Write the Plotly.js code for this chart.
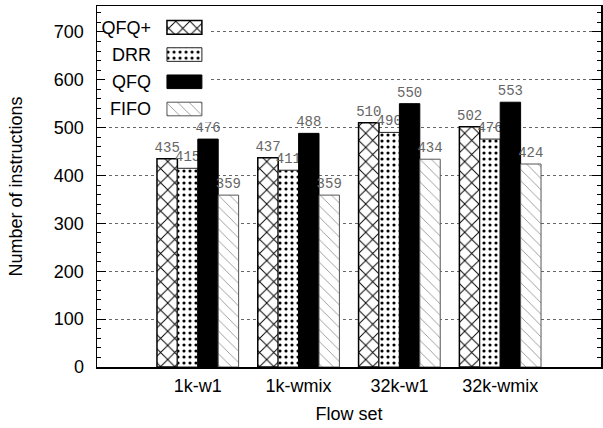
<!DOCTYPE html>
<html>
<head>
<meta charset="utf-8">
<script src="https://cdn.plot.ly/plotly-3.0.1.min.js"></script>
<style>html,body{margin:0;padding:0;background:#fff;}#chart{width:603px;height:428px;}</style>
</head>
<body>
<div id="chart"></div>
<script>
// ---- data ----
const categories = ['1k-w1', '1k-wmix', '32k-w1', '32k-wmix'];
const seriesNames = ['QFQ+', 'DRR', 'QFQ', 'FIFO'];
const qfqPlus = [435, 437, 510, 502];
const drr = [415, 411, 490, 476];
const qfq = [476, 488, 550, 553];
const fifo = [359, 359, 434, 424];
const yTickVals = [0, 100, 200, 300, 400, 500, 600, 700];
const yTitle = 'Number of instructions';
const xTitle = 'Flow set';

const seriesValues = [qfqPlus, drr, qfq, fifo];

// ---- styles ----
const styles = [
  {color: 'white', line: {color: 'black', width: 1.5},
   pattern: {shape: 'x', fgcolor: 'black', bgcolor: 'white', size: 10, solidity: 0.18}},
  {color: 'white', line: {color: '#222', width: 1},
   pattern: {shape: '.', fgcolor: 'black', bgcolor: 'white', size: 6, solidity: 0.22}},
  {color: 'black', line: {color: 'black', width: 1}},
  {color: 'white', line: {color: '#555', width: 1},
   pattern: {shape: '\\', fgcolor: '#888', bgcolor: 'white', size: 8, solidity: 0.1}}
];

const font = 'Liberation Sans, Arial, Helvetica, sans-serif';

const traces = [];
seriesNames.forEach((name, i) => {
  traces.push({
    type: 'bar', name: name, x: categories, y: seriesValues[i],
    marker: styles[i],
    text: seriesValues[i].map(String),
    textposition: 'outside',
    constraintext: 'none',
    cliponaxis: false,
    textfont: {family: 'Liberation Mono, Courier New, monospace', size: 14, color: '#666'},
    hoverinfo: 'skip', showlegend: false
  });
});
// legend key drawn as a small inset bar chart
seriesNames.forEach((name, i) => {
  traces.push({
    type: 'bar', orientation: 'h', x: [1], y: [name],
    xaxis: 'x2', yaxis: 'y2', width: 0.5, offset: -0.25,
    marker: styles[i], hoverinfo: 'skip', showlegend: false
  });
});

const layout = {
  width: 603, height: 428,
  margin: {l: 97, r: 2, t: 6, b: 61},
  paper_bgcolor: 'white', plot_bgcolor: 'white',
  barmode: 'group', bargap: 0.19, bargroupgap: 0,
  showlegend: false,
  font: {family: font, size: 18, color: 'black'},
  xaxis: {
    type: 'category', range: [-1, 4],
    showline: true, linecolor: 'black', linewidth: 1.5, mirror: true,
    ticks: '', showgrid: false, zeroline: false,
    tickfont: {size: 18},
    ticklabelstandoff: 2,
    title: {text: xTitle, font: {size: 18}, standoff: 12}
  },
  yaxis: {
    range: [0, 754], tickvals: yTickVals,
    showline: true, linecolor: 'black', linewidth: 1.5, mirror: 'allticks',
    ticks: 'inside', ticklen: 9, tickwidth: 1, tickcolor: 'black',
    minor: {dtick: 20, ticks: 'inside', ticklen: 4, tickcolor: 'black', tickwidth: 1, showgrid: false},
    showgrid: true, gridcolor: '#666', griddash: 'dot', gridwidth: 1,
    zeroline: false,
    tickfont: {size: 18},
    ticklabelstandoff: 8,
    title: {text: yTitle, font: {size: 18}, standoff: 26}
  },
  xaxis2: {
    domain: [0.016, 0.224], anchor: 'y2', range: [-1.771, 1.229],
    showline: false, showgrid: false, zeroline: false, showticklabels: false, ticks: ''
  },
  yaxis2: {
    domain: [0.677, 0.997], anchor: 'free', position: 0.107,
    type: 'category', categoryorder: 'array', categoryarray: seriesNames,
    range: [3.5, -0.745],
    showline: false, showgrid: false, zeroline: false, ticks: '',
    tickfont: {size: 18}
  }
};

Plotly.newPlot('chart', traces, layout, {displayModeBar: false, staticPlot: true});
</script>
</body>
</html>
